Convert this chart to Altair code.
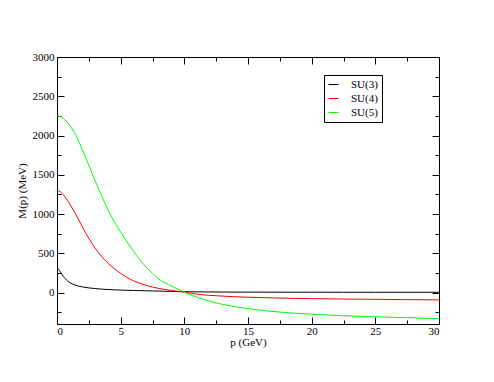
import altair as alt
import pandas as pd

# ---- data ----
p_gev = [0, 0.1, 0.25, 0.5, 0.75, 1, 1.5, 2, 2.5, 3, 3.5, 4, 4.5, 5, 5.5, 6, 6.5,
         7, 7.5, 8, 9, 10, 11, 12, 13, 14, 15, 17.5, 20, 22.5, 25, 27.5, 30]
su3 = [292, 300, 268, 205, 160, 128, 92, 72, 60, 51, 44, 39, 35, 32, 29, 27, 25,
       23, 21, 19, 15, 11, 9, 8, 7, 6, 6, 5, 5, 4, 4, 4, 4]
su4 = [1297, 1295, 1285, 1245, 1192, 1128, 990, 835, 690, 565, 460, 375, 305, 245, 192, 150, 118,
       92, 70, 53, 27, 5, -20, -35, -45, -53, -59, -70, -77, -82, -86, -90, -93]
su5 = [2250, 2248, 2240, 2215, 2178, 2128, 2000, 1815, 1620, 1422, 1235, 1055, 900, 770, 645, 530, 420,
       325, 245, 172, 82, 5, -60, -110, -150, -180, -205, -248, -275, -295, -308, -320, -332]

series_names = ["SU(3)", "SU(4)", "SU(5)"]
series_colors = ["#000000", "#ff0000", "#00ff00"]

x_major = [0, 5, 10, 15, 20, 25, 30]
x_minor = [2.5, 7.5, 12.5, 17.5, 22.5, 27.5]
y_major = [0, 500, 1000, 1500, 2000, 2500, 3000]
y_minor = [-250, 250, 750, 1250, 1750, 2250, 2750]

rows = []
for name, vals in zip(series_names, [su3, su4, su5]):
    for p, v in zip(p_gev, vals):
        rows.append({"p": p, "M": v, "series": name})
df = pd.DataFrame(rows)

W, H = 382, 267
FONT = "Liberation Serif"

xs = alt.Scale(domain=[0, 30], nice=False, zero=False)
ys = alt.Scale(domain=[-400, 3000], nice=False, zero=False)

base = alt.Chart(df)

lines = base.mark_line(strokeWidth=1, interpolate="monotone").encode(
    x=alt.X("p:Q", scale=xs,
            axis=alt.Axis(title="p (GeV)", values=x_major, ticks=False, tickSize=0,
                          domain=False, grid=False, labelPadding=1, titlePadding=0,
                          format="d", labelFont=FONT, labelFontSize=11, labelColor="black",
                          titleFont=FONT, titleFontSize=11, titleColor="black",
                          titleFontWeight="normal")),
    y=alt.Y("M:Q", scale=ys,
            axis=alt.Axis(title="M(p) (MeV)", values=y_major, ticks=False, tickSize=0,
                          domain=False, grid=False, labelPadding=3, titlePadding=5,
                          format="d", labelFont=FONT, labelFontSize=11, labelColor="black",
                          titleFont=FONT, titleFontSize=11, titleColor="black",
                          titleFontWeight="normal")),
    color=alt.Color("series:N",
                    scale=alt.Scale(domain=series_names, range=series_colors),
                    legend=alt.Legend(title=None, orient="none", legendX=267, legendY=18,
                                      strokeColor="black", padding=4, symbolType="stroke",
                                      symbolSize=100, symbolStrokeWidth=1, labelOffset=12,
                                      rowPadding=2, labelFont=FONT, labelFontSize=11,
                                      labelColor="black")),
    order="p:Q",
)


def tick_layer(xorient, yorient, xvals, yvals, size, xoff, yoff):
    return base.mark_line(strokeOpacity=0).encode(
        x=alt.X("p:Q", scale=xs, title=None,
                axis=alt.Axis(orient=xorient, offset=xoff, values=xvals, tickSize=size,
                              labels=False, domain=False, grid=False, tickColor="black",
                              tickWidth=1)),
        y=alt.Y("M:Q", scale=ys, title=None,
                axis=alt.Axis(orient=yorient, offset=yoff, values=yvals, tickSize=size,
                              labels=False, domain=False, grid=False, tickColor="black",
                              tickWidth=1)),
        detail="series:N",
    )


# inward ticks on bottom/left (placed via opposite orient + negative offset)
t_bl_major = tick_layer("top", "right", x_major, y_major, 7, -H, -W)
t_bl_minor = tick_layer("top", "right", x_minor, y_minor, 4, -H, -W)
# inward ticks on top/right
t_tr_major = tick_layer("bottom", "left", x_major, y_major, 7, -H, -W)
t_tr_minor = tick_layer("bottom", "left", x_minor, y_minor, 4, -H, -W)

chart = alt.layer(lines, t_bl_major, t_bl_minor, t_tr_major, t_tr_minor).resolve_axis(
    x="independent", y="independent"
).properties(
    width=W, height=H,
    autosize=alt.AutoSizeParams(type="none"),
    padding={"left": 49, "top": 49, "right": 30, "bottom": 30},
    background="white",
).configure_view(
    stroke="black", strokeWidth=1
).configure_axis(
    labelFont=FONT, labelFontSize=11, labelColor="black",
    titleFont=FONT, titleFontSize=11, titleColor="black", titleFontWeight="normal",
)

chart.save("out.html", embed_options={"renderer": "svg", "actions": False})
